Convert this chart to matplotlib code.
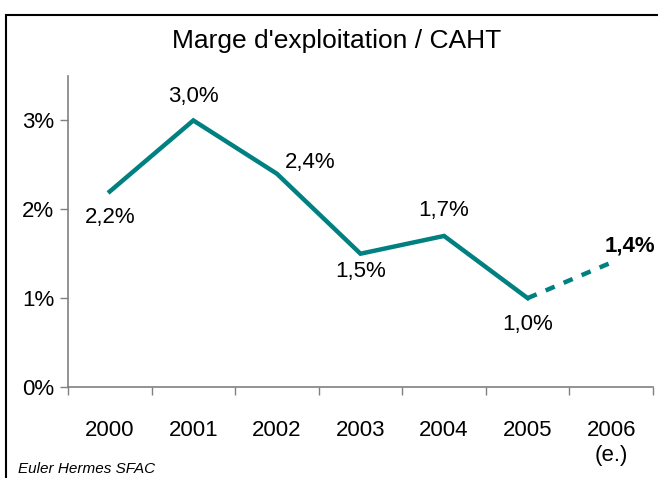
import matplotlib
matplotlib.use("Agg")
import matplotlib.pyplot as plt
from matplotlib.patches import Rectangle

plt.rcParams['font.family'] = ['Liberation Sans Narrow', 'Liberation Sans', 'DejaVu Sans']

# Données
annees = ["2000", "2001", "2002", "2003", "2004", "2005", "2006\n(e.)"]
marge = [2.2, 3.0, 2.4, 1.5, 1.7, 1.0, 1.4]
etiquettes = ["2,2%", "3,0%", "2,4%", "1,5%", "1,7%", "1,0%", "1,4%"]
# décalage des étiquettes (points)
decal = [(0, -19), (0, 17), (24, 8), (0, -13), (0, 18), (0, -19), (32, 12)]

couleur = "#008080"

fig = plt.figure(figsize=(6.58, 4.78), dpi=100)
ax = fig.add_axes([0.1033, 0.1904, 0.8891, 0.6506])

x = list(range(len(annees)))
ax.plot(x[:6], marge[:6], color=couleur, lw=3.2, solid_joinstyle="miter")
ax.plot(x[5:], marge[5:], color=couleur, lw=3.2, ls=(0, (2.2, 2.2)))

for i, (v, t) in enumerate(zip(marge, etiquettes)):
    if i == 6:
        ax.annotate(t, (x[i], v), xytext=decal[i], textcoords="offset points",
                    ha="right", va="center", fontsize=16, fontweight="bold",
                    annotation_clip=False)
    else:
        ax.annotate(t, (x[i], v), xytext=decal[i], textcoords="offset points",
                    ha="center", va="center", fontsize=16, annotation_clip=False)

ax.set_xlim(-0.5, 6.5)
ax.set_ylim(0, 3.5)
ax.set_yticks([0, 1, 2, 3])
ax.set_yticklabels(["0%", "1%", "2%", "3%"])
ax.set_xticks(x)
ax.set_xticklabels(annees, linespacing=1.25)
ax.set_xticks([i - 0.5 for i in range(8)], minor=True)
ax.tick_params(axis="x", which="major", length=0, pad=24, labelsize=16)
ax.tick_params(axis="x", which="minor", length=6, color="#808080", width=1)
ax.tick_params(axis="y", length=6, color="#808080", width=1, labelsize=16, pad=4)

for s in ["top", "right"]:
    ax.spines[s].set_visible(False)
for s in ["left", "bottom"]:
    ax.spines[s].set_color("#808080")
    ax.spines[s].set_linewidth(1.2)

fig.text(0.512, 0.915, "Marge d'exploitation / CAHT", ha="center", va="center", fontsize=19)
fig.text(0.027, 0.018, "Euler Hermes SFAC", ha="left", va="center", fontsize=11, style="italic")

fig.patches.append(Rectangle((6 / 658, -0.05), 1.1, 1 - 15 / 478 + 0.05,
                             transform=fig.transFigure, fill=False,
                             edgecolor="black", lw=1.5))

fig.savefig("out.png", dpi=100)
